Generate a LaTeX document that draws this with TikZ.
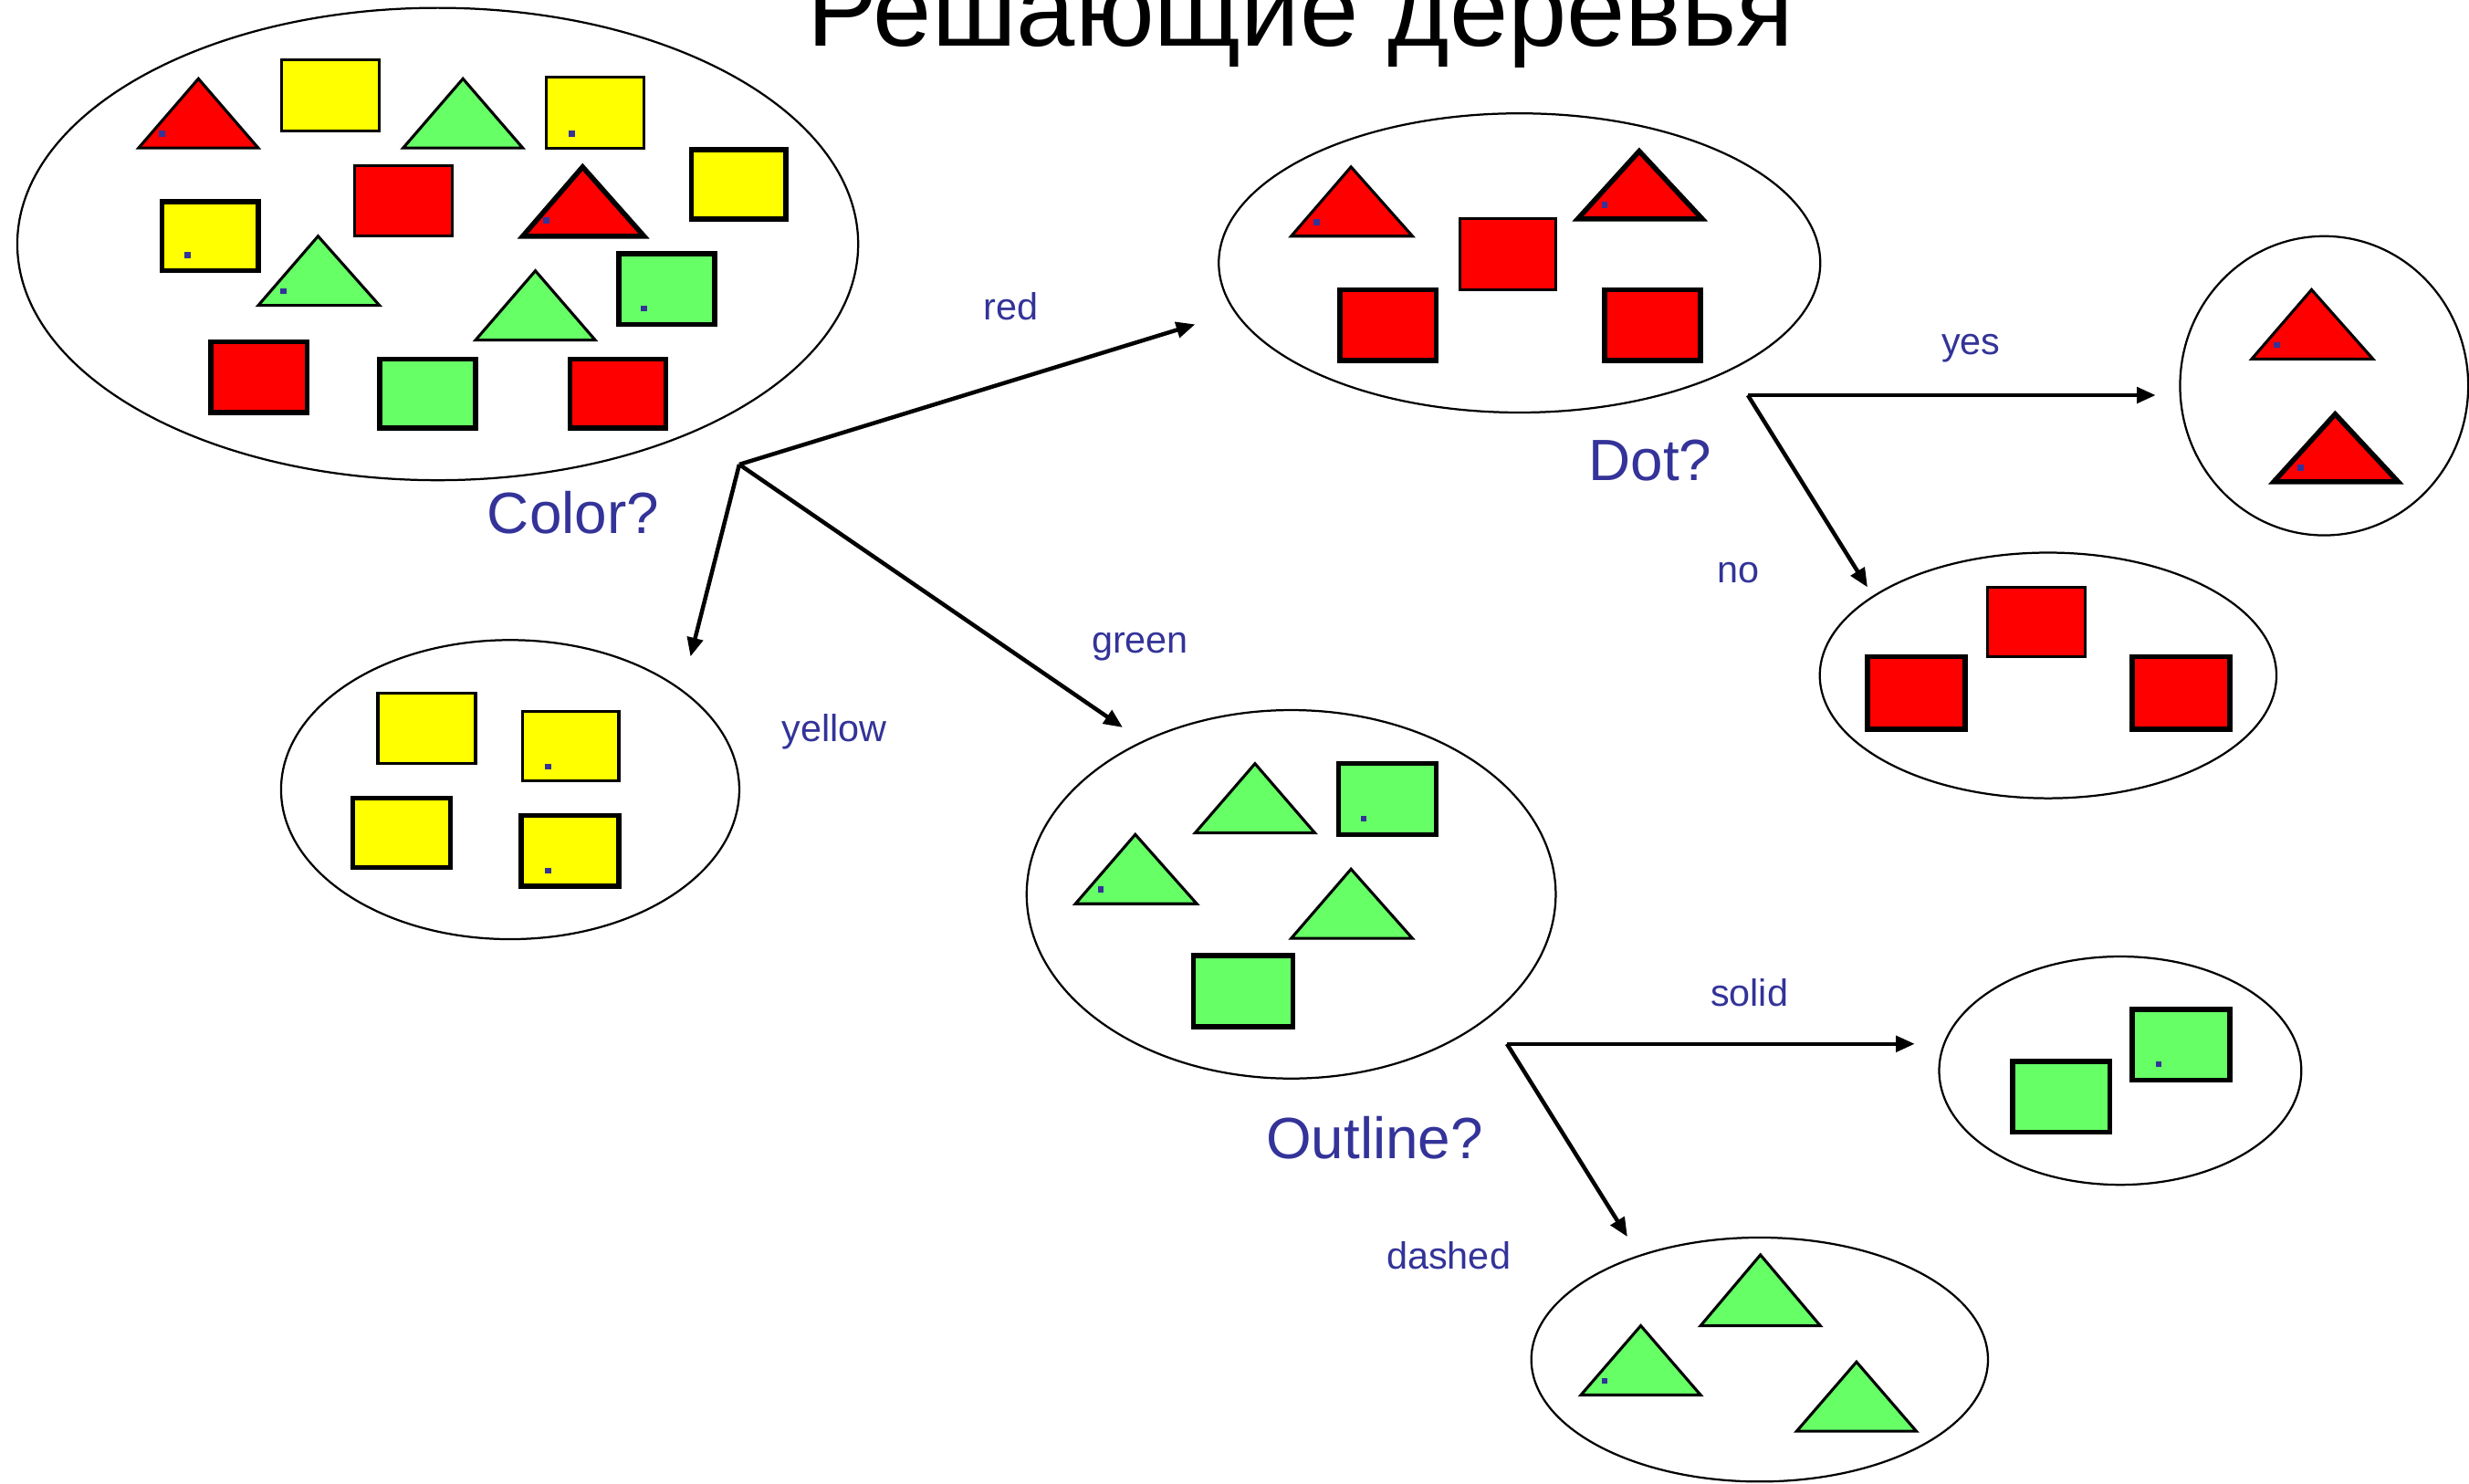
\documentclass[tikz,border=0pt]{standalone}
\usepackage{fontspec}
\setmainfont{Liberation Sans}
\usetikzlibrary{arrows.meta,shapes.geometric}
\definecolor{shapered}{HTML}{FF0000}
\definecolor{shapeyellow}{HTML}{FFFF00}
\definecolor{shapegreen}{HTML}{66FF66}
\definecolor{labelblue}{HTML}{333399}
\tikzset{
  group/.style={draw, ellipse, line width=1.3pt, inner sep=0pt},
  branch/.style={line width=2.6pt, -{Triangle[length=12pt,width=10pt]}},
  thinline/.style={draw=black, line width=1.8pt, line join=miter},
  thickline/.style={draw=black, line width=3.2pt, line join=miter},
  question/.style={text=labelblue, font=\fontsize{37}{40}\selectfont, anchor=base},
  answer/.style={text=labelblue, font=\fontsize{24}{28}\selectfont, anchor=base},
  dotmark/.style={fill=labelblue},
}
% small blue marker centred on (#1,#2)
\newcommand{\markdot}[2]{\fill[dotmark] (#1-1.9,#2-1.9) rectangle (#1+1.9,#2+1.9);}
% triangle: apex (#2,#3), base from #4 to #5 at height #6
\newcommand{\tri}[6]{\draw[#1] (#2,#3) -- (#4,#6) -- (#5,#6) -- cycle;}
\newcommand{\blk}[5]{\draw[#1] (#2,#3) rectangle (#4,#5);}

\begin{document}
\begin{tikzpicture}[x=1pt,y=-1pt]
\useasboundingbox (0,0) rectangle (1568,942);

% title
\node[anchor=base, font=\fontsize{67}{72}\selectfont] (title) at (826,29) {Решающие деревья};

% sets
\node[group, minimum width=534pt, minimum height=300pt] (root) at (278,155) {};
\node[group, minimum width=382pt, minimum height=190pt] (redset) at (965,167) {};
\node[group, minimum width=291pt, minimum height=190pt] (yellowset) at (324,501.5) {};
\node[group, minimum width=336pt, minimum height=234pt] (greenset) at (820,568) {};
\node[group, minimum width=183pt, minimum height=190pt] (yesset) at (1476,245) {};
\node[group, minimum width=290pt, minimum height=156pt] (noset) at (1300.7,429) {};
\node[group, minimum width=230pt, minimum height=145pt] (solidset) at (1346.5,680) {};
\node[group, minimum width=290pt, minimum height=155pt] (dashedset) at (1117.5,863.5) {};

% branching points and arrow ends
\coordinate (s1) at (469.5,295);
\coordinate (s2) at (1110,251);
\coordinate (s3) at (957,663);
\coordinate (toRed) at (759,206);
\coordinate (toYellow) at (438.5,417);
\coordinate (toGreen) at (713,462);
\coordinate (toYes) at (1369,251);
\coordinate (toNo) at (1186,373);
\coordinate (toSolid) at (1216,663);
\coordinate (toDashed) at (1033.5,785.5);

\draw[branch] (s1) -- (toRed);
\draw[branch] (s1) -- (toYellow);
\draw[branch] (s1) -- (toGreen);
\draw[branch] (s2) -- (toYes);
\draw[branch] (s2) -- (toNo);
\draw[branch] (s3) -- (toSolid);
\draw[branch] (s3) -- (toDashed);

% questions and answers
\node[question] (qcolor) at (364,339) {Color?};
\node[question] (qdot) at (1048,305) {Dot?};
\node[question] (qoutline) at (873,736) {Outline?};
\node[answer] (ared) at (642,203) {red};
\node[answer] (ayellow) at (530,471) {yellow};
\node[answer] (agreen) at (724,415) {green};
\node[answer] (ayes) at (1251.7,225) {yes};
\node[answer] (ano) at (1104,370) {no};
\node[answer] (asolid) at (1111,639) {solid};
\node[answer] (adashed) at (920,806) {dashed};

% full collection
\tri{thinline, fill=shapered}{126}{50}{88}{164}{94} \markdot{103}{85}
\blk{thinline, fill=shapeyellow}{179}{38}{241}{83}
\tri{thinline, fill=shapegreen}{294}{50}{256}{332}{94}
\blk{thinline, fill=shapeyellow}{347}{49}{409}{94} \markdot{363}{85}
\blk{thickline, fill=shapeyellow}{439}{95}{499}{139}
\blk{thickline, fill=shapeyellow}{103}{128}{164}{172} \markdot{119}{162}
\blk{thinline, fill=shapered}{225}{105}{287}{150}
\tri{thickline, fill=shapered}{370}{106}{332}{409}{150} \markdot{347}{140}
\tri{thinline, fill=shapegreen}{202}{150}{164}{241}{194} \markdot{180}{185}
\tri{thinline, fill=shapegreen}{340}{172}{302}{378}{216}
\blk{thickline, fill=shapegreen}{393}{161}{454}{206} \markdot{409}{196}
\blk{thickline, fill=shapered}{134}{217}{195}{262}
\blk{thickline, fill=shapegreen}{241}{228}{302}{272}
\blk{thickline, fill=shapered}{362}{228}{423}{272}

% red subset
\tri{thinline, fill=shapered}{858}{106}{820}{897}{150} \markdot{836}{141}
\blk{thinline, fill=shapered}{927}{139}{988}{184}
\tri{thickline, fill=shapered}{1041}{96}{1002}{1081}{139} \markdot{1019}{130}
\blk{thickline, fill=shapered}{851}{184}{912}{229}
\blk{thickline, fill=shapered}{1019}{184}{1080}{229}

% red with dot
\tri{thinline, fill=shapered}{1468}{184}{1430}{1507}{228} \markdot{1446}{219}
\tri{thickline, fill=shapered}{1483}{263}{1444}{1523}{306} \markdot{1461}{297}

% red without dot
\blk{thinline, fill=shapered}{1262}{373}{1324}{417}
\blk{thickline, fill=shapered}{1186}{417}{1248}{463}
\blk{thickline, fill=shapered}{1354}{417}{1416}{463}

% yellow subset
\blk{thinline, fill=shapeyellow}{240}{440}{302}{485}
\blk{thinline, fill=shapeyellow}{332}{452}{393}{496} \markdot{348}{487}
\blk{thickline, fill=shapeyellow}{224}{507}{286}{551}
\blk{thickline, fill=shapeyellow}{331}{518}{393}{563} \markdot{348}{553}

% green subset
\tri{thinline, fill=shapegreen}{797}{485}{759}{835}{529}
\blk{thickline, fill=shapegreen}{850}{485}{912}{530} \markdot{866}{520}
\tri{thinline, fill=shapegreen}{721}{530}{683}{760}{574} \markdot{699}{565}
\tri{thinline, fill=shapegreen}{858}{552}{820}{897}{596}
\blk{thickline, fill=shapegreen}{758}{607}{821}{652}

% green, solid outline
\blk{thickline, fill=shapegreen}{1278}{674}{1340}{719}
\blk{thickline, fill=shapegreen}{1354}{641}{1416}{686} \markdot{1371}{676}

% green, dashed outline
\tri{thinline, fill=shapegreen}{1118}{797}{1080}{1156}{842}
\tri{thinline, fill=shapegreen}{1042}{842}{1004}{1080}{886} \markdot{1019}{877}
\tri{thinline, fill=shapegreen}{1179}{865}{1141}{1217}{909}
\end{tikzpicture}
\end{document}
